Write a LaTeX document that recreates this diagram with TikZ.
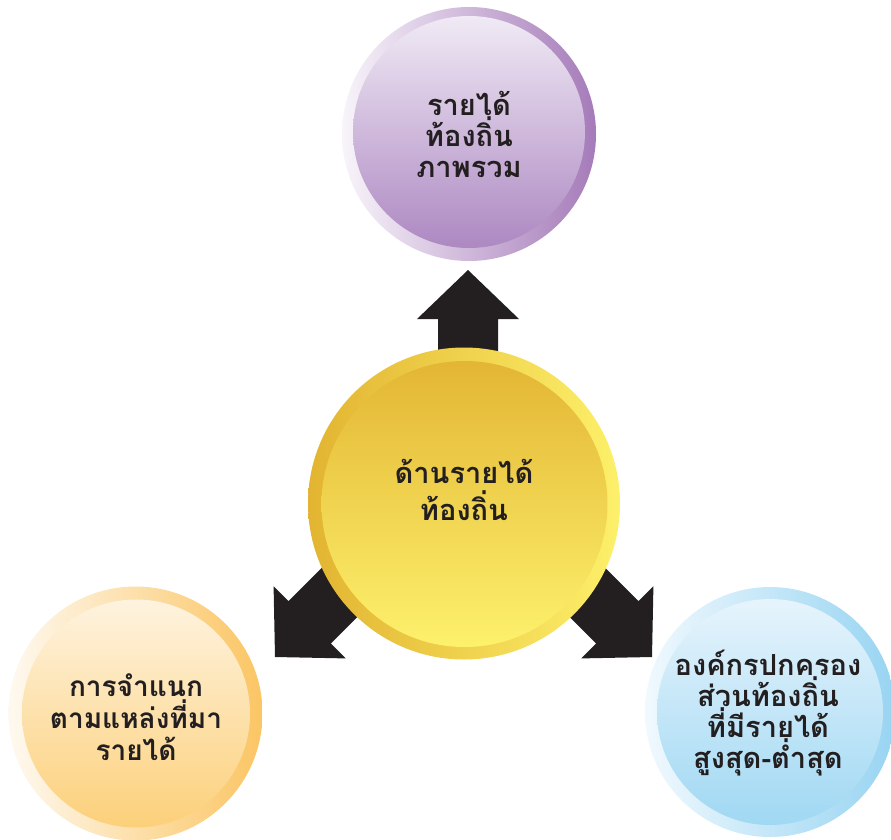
\documentclass[tikz,border=0pt]{standalone}
\usepackage{fontspec}
\newfontfamily\thaifont[Script=Thai]{Loma}
\definecolor{arrowfill}{HTML}{231F20}
\definecolor{txt}{HTML}{231F20}
\definecolor{puA}{HTML}{F8F4FA}\definecolor{puB}{HTML}{A57BB9}
\definecolor{puC}{HTML}{F0EAF5}\definecolor{puD}{HTML}{AD88C2}
\definecolor{yeA}{HTML}{E2B431}\definecolor{yeB}{HTML}{FDF06A}
\definecolor{yeC}{HTML}{E3B634}\definecolor{yeD}{HTML}{FDF16C}
\definecolor{orA}{HTML}{FEF9F0}\definecolor{orB}{HTML}{FBC563}
\definecolor{orC}{HTML}{FEF3DF}\definecolor{orD}{HTML}{FCD07A}
\definecolor{blA}{HTML}{F0F9FE}\definecolor{blB}{HTML}{98D4F2}
\definecolor{blC}{HTML}{E6F4FC}\definecolor{blD}{HTML}{A0D8F3}
\begin{document}
\begin{tikzpicture}[x=1pt,y=-1pt,
  ring/.style={circle, inner sep=0pt, minimum size=#1},
  lbl/.style={align=center, text=txt, inner sep=0pt,
    font=\thaifont\bfseries\fontsize{29}{31}\selectfont},
  barrow/.pic={\fill[arrowfill] (0,0) -- (51,49) -- (30,49) -- (30,125)
     -- (-30,125) -- (-30,49) -- (-51,49) -- cycle;}]
\useasboundingbox (0,0) rectangle (891,840);
\clip (0,0) rectangle (891,840);
% arrows
\pic at (468,270) {barrow};
\pic[rotate=135] at (275,657) {barrow};
\pic[rotate=-135] at (652,657) {barrow};
% top circle
\node[ring=254pt, left color=puA, right color=puB] (topo) at (469,134) {};
\node[ring=232pt, top color=puC, bottom color=puD] (topi) at (469,132) {};
\node[lbl] (topt) at (469,134) {รายได้\\ท้องถิ่น\\ภาพรวม};
% center circle
\node[ring=312pt, left color=yeA, right color=yeB] (cento) at (464,503.5) {};
\node[ring=286pt, top color=yeC, bottom color=yeD] (centi) at (464.5,504) {};
\node[lbl, font=\thaifont\bfseries\fontsize{29}{37}\selectfont] (centt) at (464,490) {ด้านรายได้\\ท้องถิ่น};
% left circle
\node[ring=254pt, left color=orA, right color=orB] (lefto) at (135.5,713.5) {};
\node[ring=228pt, top color=orC, bottom color=orD] (lefti) at (136,713.5) {};
\node[lbl, font=\thaifont\bfseries\fontsize{28}{32}\selectfont] (leftt) at (136,717) {การจำแนก\\ตามแหล่งที่มา\\รายได้};
% right circle
\node[ring=250pt, left color=blA, right color=blB] (righto) at (770,712) {};
\node[ring=226pt, top color=blC, bottom color=blD] (righti) at (770,712) {};
\node[lbl] (rightt) at (768,713) {องค์กรปกครอง\\ส่วนท้องถิ่น\\ที่มีรายได้\\สูงสุด-ต่ำสุด};
\end{tikzpicture}
\end{document}
